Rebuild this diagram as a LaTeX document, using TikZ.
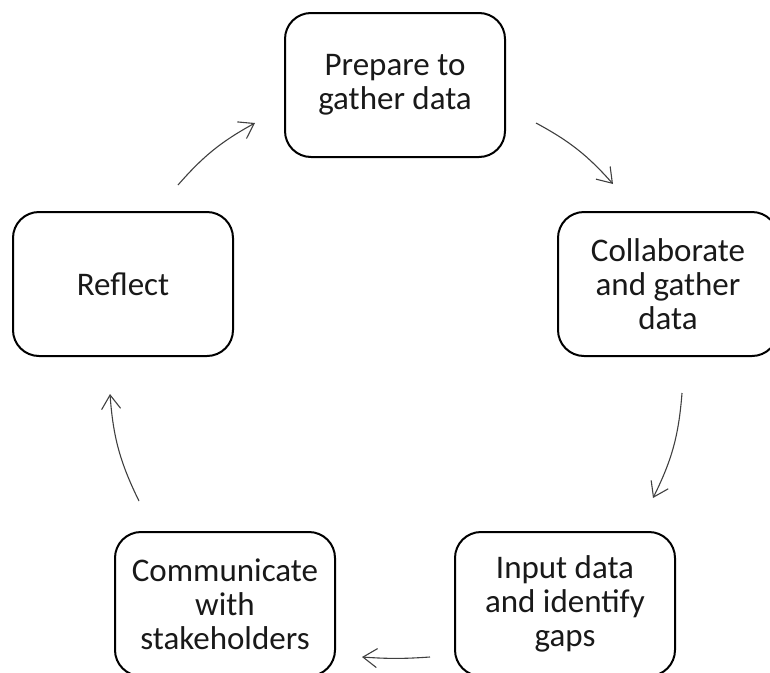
\documentclass[tikz,border=0pt]{standalone}
\usepackage{fontspec}
\setmainfont{Carlito}
\usetikzlibrary{arrows.meta}
\begin{document}
\begin{tikzpicture}[x=1pt,y=1pt,
  stage/.style={draw=black, line width=2pt, rounded corners=26pt,
    minimum width=220pt, minimum height=144pt, inner sep=0pt,
    align=center, fill=white, text=black!90,
    font=\fontsize{33}{34}\selectfont},
  flow/.style={draw=black!75, line width=1.1pt,
    -{Straight Barb[length=14pt,width=19pt]}}]
\useasboundingbox (0,0) rectangle (770,-672);

% the five stages of the cycle
\node[stage] (prep)    at (395,-85)  {Prepare to\\gather data};
\node[stage] (collab)  at (668,-284) {Collaborate\\and gather\\data};
\node[stage] (input)   at (565,-604) {Input data\\and identify\\gaps};
\node[stage] (comm)    at (225,-604) {Communicate\\with\\stakeholders};
\node[stage] (reflect) at (123,-284) {Reflect};

% end points of the curved arrows between stages
\coordinate (r2p-s) at (178,-185); \coordinate (r2p-e) at (255,-123);
\coordinate (p2c-s) at (536,-123); \coordinate (p2c-e) at (613,-184);
\coordinate (c2i-s) at (682,-393); \coordinate (c2i-e) at (653,-498);
\coordinate (i2m-s) at (430,-657); \coordinate (i2m-e) at (362,-657);
\coordinate (m2r-s) at (139,-501); \coordinate (m2r-e) at (110,-394);

\draw[flow] (r2p-s) to[bend left=10] (r2p-e);
\draw[flow] (p2c-s) to[bend left=10] (p2c-e);
\draw[flow] (c2i-s) to[bend left=11] (c2i-e);
\draw[flow] (i2m-s) to[bend left=4] (i2m-e);
\draw[flow] (m2r-s) to[bend left=11] (m2r-e);
\end{tikzpicture}
\end{document}
